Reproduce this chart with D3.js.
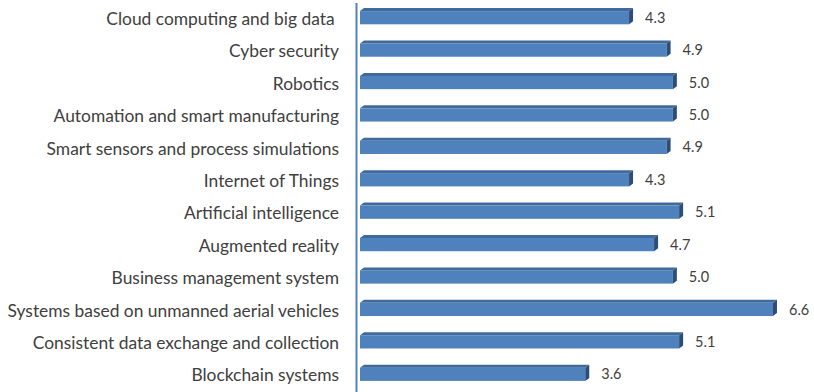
<!DOCTYPE html>
<html>
<head>
<meta charset="utf-8">
<script src="https://cdn.jsdelivr.net/npm/d3@7"></script>
<style>
  html, body { margin: 0; padding: 0; background: #fff; }
  svg text { font-family: Lato, "Open Sans", sans-serif; fill: #404040; white-space: pre; }
</style>
</head>
<body>
<svg id="chart" width="814" height="392"></svg>
<script>
// Technology areas, top to bottom
const categories = [
  "Cloud computing and big data ",
  "Cyber security",
  "Robotics",
  "Automation and smart manufacturing",
  "Smart sensors and process simulations",
  "Internet of Things",
  "Artificial intelligence",
  "Augmented reality",
  "Business management system",
  "Systems based on unmanned aerial vehicles",
  "Consistent data exchange and collection",
  "Blockchain systems"
];
const values = [4.3, 4.9, 5.0, 5.0, 4.9, 4.3, 5.1, 4.7, 5.0, 6.6, 5.1, 3.6];

const svg = d3.select("#chart");
const W = 814, H = 392;

const x = d3.scaleLinear().domain([0, 7]).range([360, 798]);
const y = d3.scaleBand().domain(categories).range([0, 389]).paddingInner(0.5).paddingOuter(0.25);

const dx = 4, dy = 3; // depth offset of the 3D faces

const rows = svg.selectAll("g.bar")
  .data(categories.map((c, i) => ({ c, v: values[i] })))
  .enter().append("g").attr("class", "bar");

// front face
rows.append("rect")
  .attr("x", x(0))
  .attr("y", d => y(d.c) + dy)
  .attr("width", d => x(d.v) - x(0))
  .attr("height", y.bandwidth() - dy)
  .attr("fill", "#4F81BD");

// top face
rows.append("path")
  .attr("d", d => {
    const x0 = x(0), x1 = x(d.v), y0 = y(d.c);
    return `M${x0},${y0 + dy}L${x0 + dx},${y0}L${x1 + dx},${y0}L${x1},${y0 + dy}Z`;
  })
  .attr("fill", "#3F6A9C");

// side face
rows.append("path")
  .attr("d", d => {
    const x1 = x(d.v), y0 = y(d.c), y1 = y(d.c) + y.bandwidth();
    return `M${x1},${y0 + dy}L${x1 + dx},${y0}L${x1 + dx},${y1 - dy}L${x1},${y1}Z`;
  })
  .attr("fill", "#2C4D76");

// value labels
rows.append("text")
  .attr("x", d => x(d.v) + dx + 12)
  .attr("y", d => y(d.c) + (y.bandwidth() + dy) / 2)
  .attr("dy", "0.35em")
  .attr("font-size", 14.5)
  .text(d => d3.format(".1f")(d.v));

// category axis
const axis = d3.axisLeft(y).tickSize(0).tickPadding(18);
const gAxis = svg.append("g")
  .attr("transform", `translate(${x(0) - 3},0)`)
  .call(axis);
gAxis.select(".domain").remove();
gAxis.selectAll("text")
  .attr("font-size", 17.4)
  .attr("dy", "0.5em")
  .style("font-family", "Lato, 'Open Sans', sans-serif")
  .attr("fill", "#404040");

svg.append("line")
  .attr("x1", x(0) - 3.5).attr("x2", x(0) - 3.5)
  .attr("y1", 3).attr("y2", H)
  .attr("stroke", "#4F81BD")
  .attr("stroke-width", 2);
</script>
</body>
</html>
